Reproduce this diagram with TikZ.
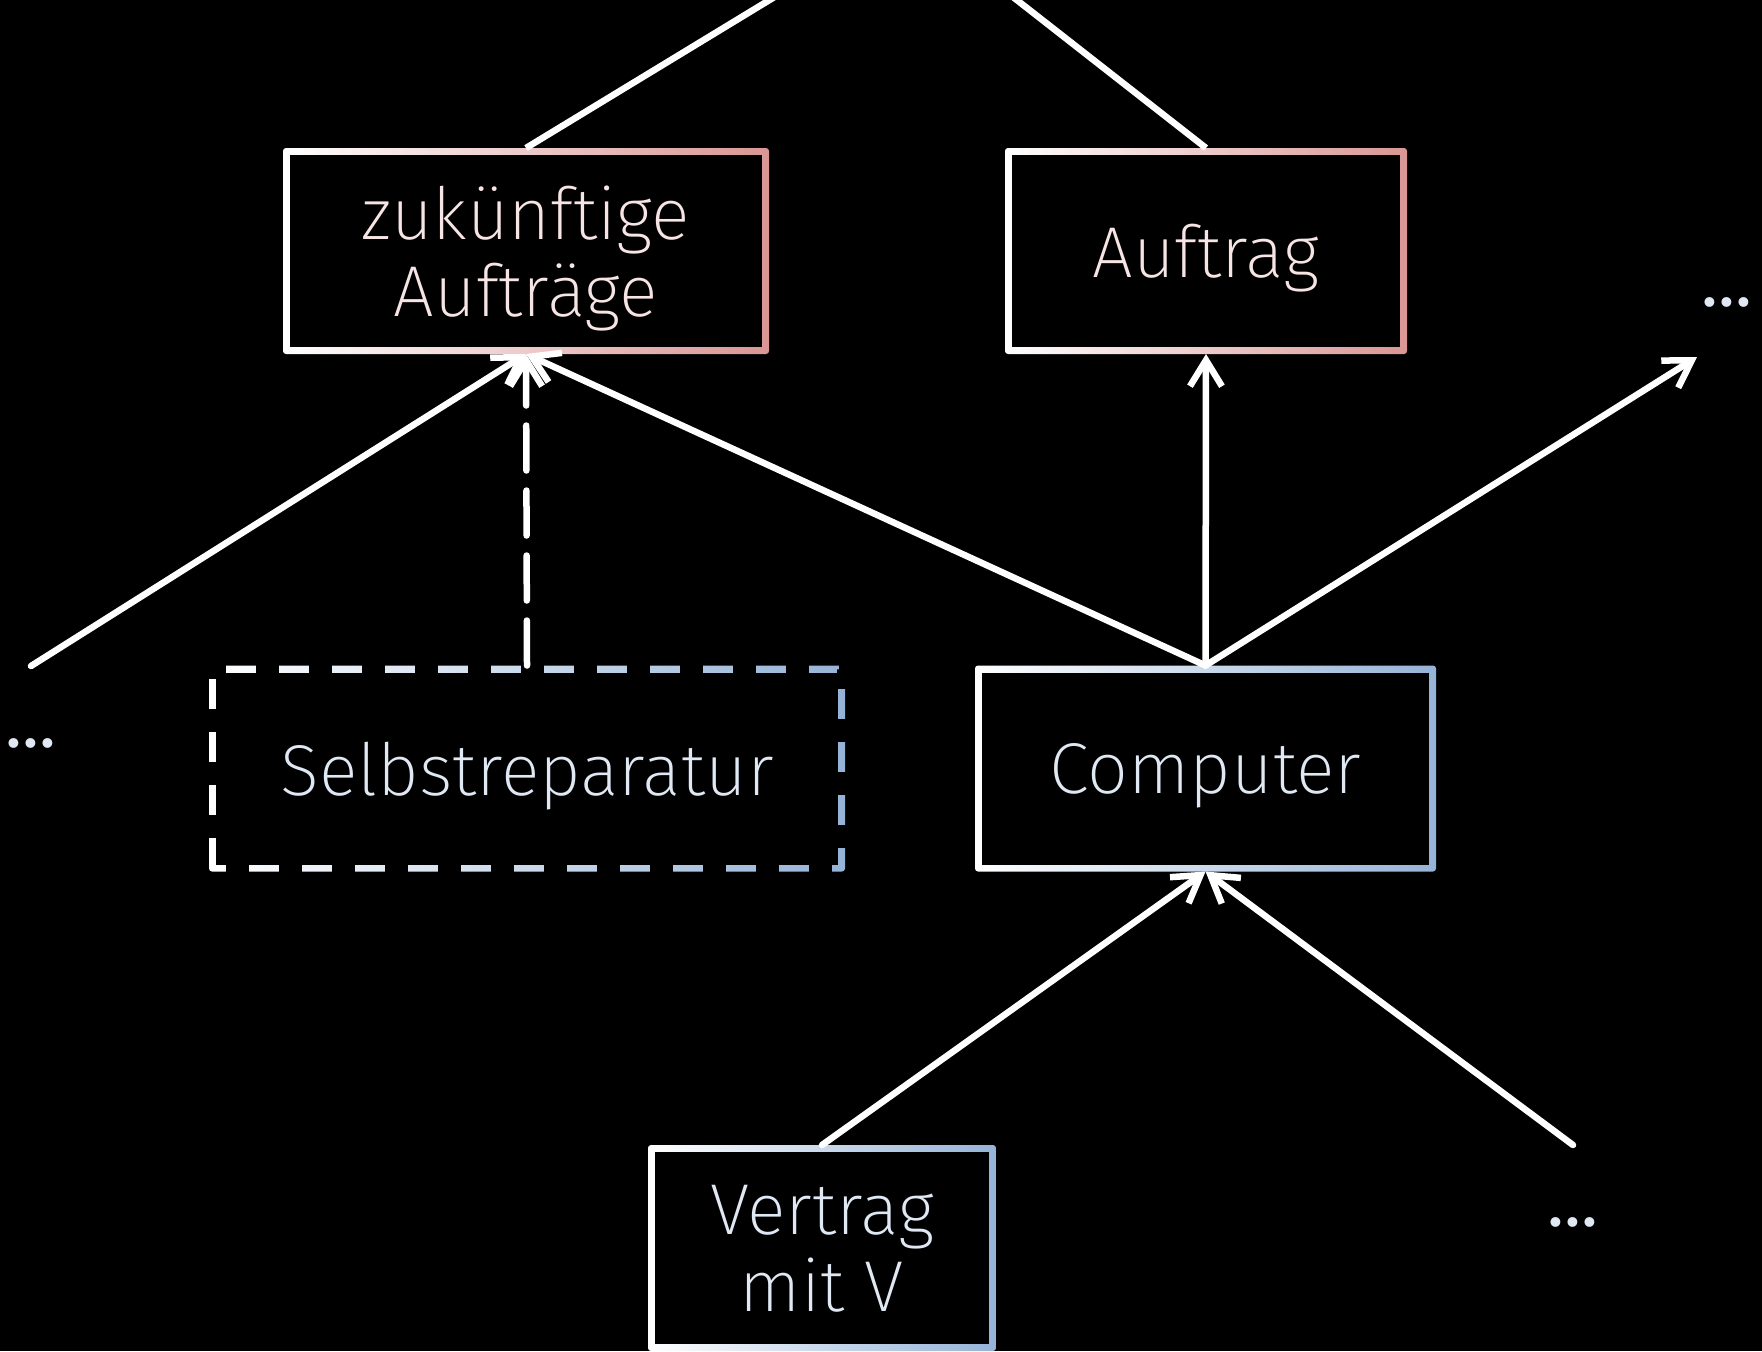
\documentclass[tikz,border=0pt]{standalone}
\usepackage{fontspec}
\setmainfont{Fira Sans ExtraLight}
\newfontfamily\punkte{Fira Sans}
\usetikzlibrary{arrows.meta,backgrounds,calc}
\definecolor{rosa}{RGB}{217,150,148}
\definecolor{hellblau}{RGB}{149,179,215}

\tikzset{
  kasten/.style={fill=black, inner sep=0pt, minimum height=1.92cm, outer sep=0.07cm,
    text depth=0pt, align=center, font=\fontsize{20.5}{22}\selectfont},
  oben/.style={kasten, text=rosa!25!white},
  unten/.style={kasten, text=hellblau!30!white},
  mehr/.style={anchor=base, text=hellblau!30!white, font=\punkte\fontsize{20}{20}\selectfont},
  pfeil/.style={-{Straight Barb[length=0.26cm,width=0.32cm]}, line width=0.065cm, white, line cap=round},
  linie/.style={line width=0.065cm, white},
}
% Rahmen mit Farbverlauf hinter einem Kasten
\newcommand{\rahmen}[2]{%
  \shade[rounded corners=0.03cm, left color=white, middle color=#2!75!white, right color=#2]
    (#1.south west) rectangle (#1.north east);}

\begin{document}
\begin{tikzpicture}
\useasboundingbox (0,0) rectangle (17.62,-13.51);

% Kaesten
\node[oben, minimum width=4.72cm] (zukunft) at (5.26,-2.51) {zukünftige\\Aufträge};
\node[oben, minimum width=3.88cm] (auftrag) at (12.06,-2.51) {Auftrag};
\node[unten, minimum width=6.22cm] (selbst) at (5.27,-7.685) {Selbstreparatur};
\node[unten, minimum width=4.47cm] (computer) at (12.055,-7.685) {Computer};
\node[unten, minimum width=3.34cm] (vertrag) at (8.22,-12.48) {Vertrag\\mit V};

% weitere Zweige
\node[mehr] (mehrlinks) at (0.31,-7.47) {...};
\node[mehr] (mehroben) at (17.27,-3.06) {...};
\node[mehr] (mehrunten) at (15.73,-12.26) {...};
\coordinate (links) at (0.31,-6.66);
\coordinate (rechtsoben) at (16.97,-3.57);
\coordinate (rechtsunten) at (15.73,-11.45);
\coordinate (obenA) at (7.86,0.1);
\coordinate (obenB) at (10.04,0.1);

\begin{scope}[on background layer]
  \fill[black] (0,0) rectangle (17.62,-13.51);
  \rahmen{zukunft}{rosa}
  \rahmen{auftrag}{rosa}
  \rahmen{selbst}{hellblau}
  \rahmen{computer}{hellblau}
  \rahmen{vertrag}{hellblau}
  % Luecken im gestrichelten Rahmen
  \draw[black, line width=0.09cm, dash pattern=on 0.23cm off 0.3cm, dash phase=0.23cm]
    ($(selbst.south west)+(0.035,0.035)$) rectangle ($(selbst.north east)+(-0.035,-0.035)$);
\end{scope}

% Verbindungen
\draw[linie] (zukunft.north) -- (obenA);
\draw[linie] (auftrag.north) -- (obenB);
\draw[pfeil] (links) -- (zukunft.south);
\draw[pfeil, dash pattern=on 0.45cm off 0.2cm] (selbst.north) -- (zukunft.south);
\draw[pfeil] (computer.north) -- (zukunft.south);
\draw[pfeil] (computer.north) -- (auftrag.south);
\draw[pfeil] (computer.north) -- (rechtsoben);
\draw[pfeil] (vertrag.north) -- (computer.south);
\draw[pfeil] (rechtsunten) -- (computer.south);
\end{tikzpicture}
\end{document}
